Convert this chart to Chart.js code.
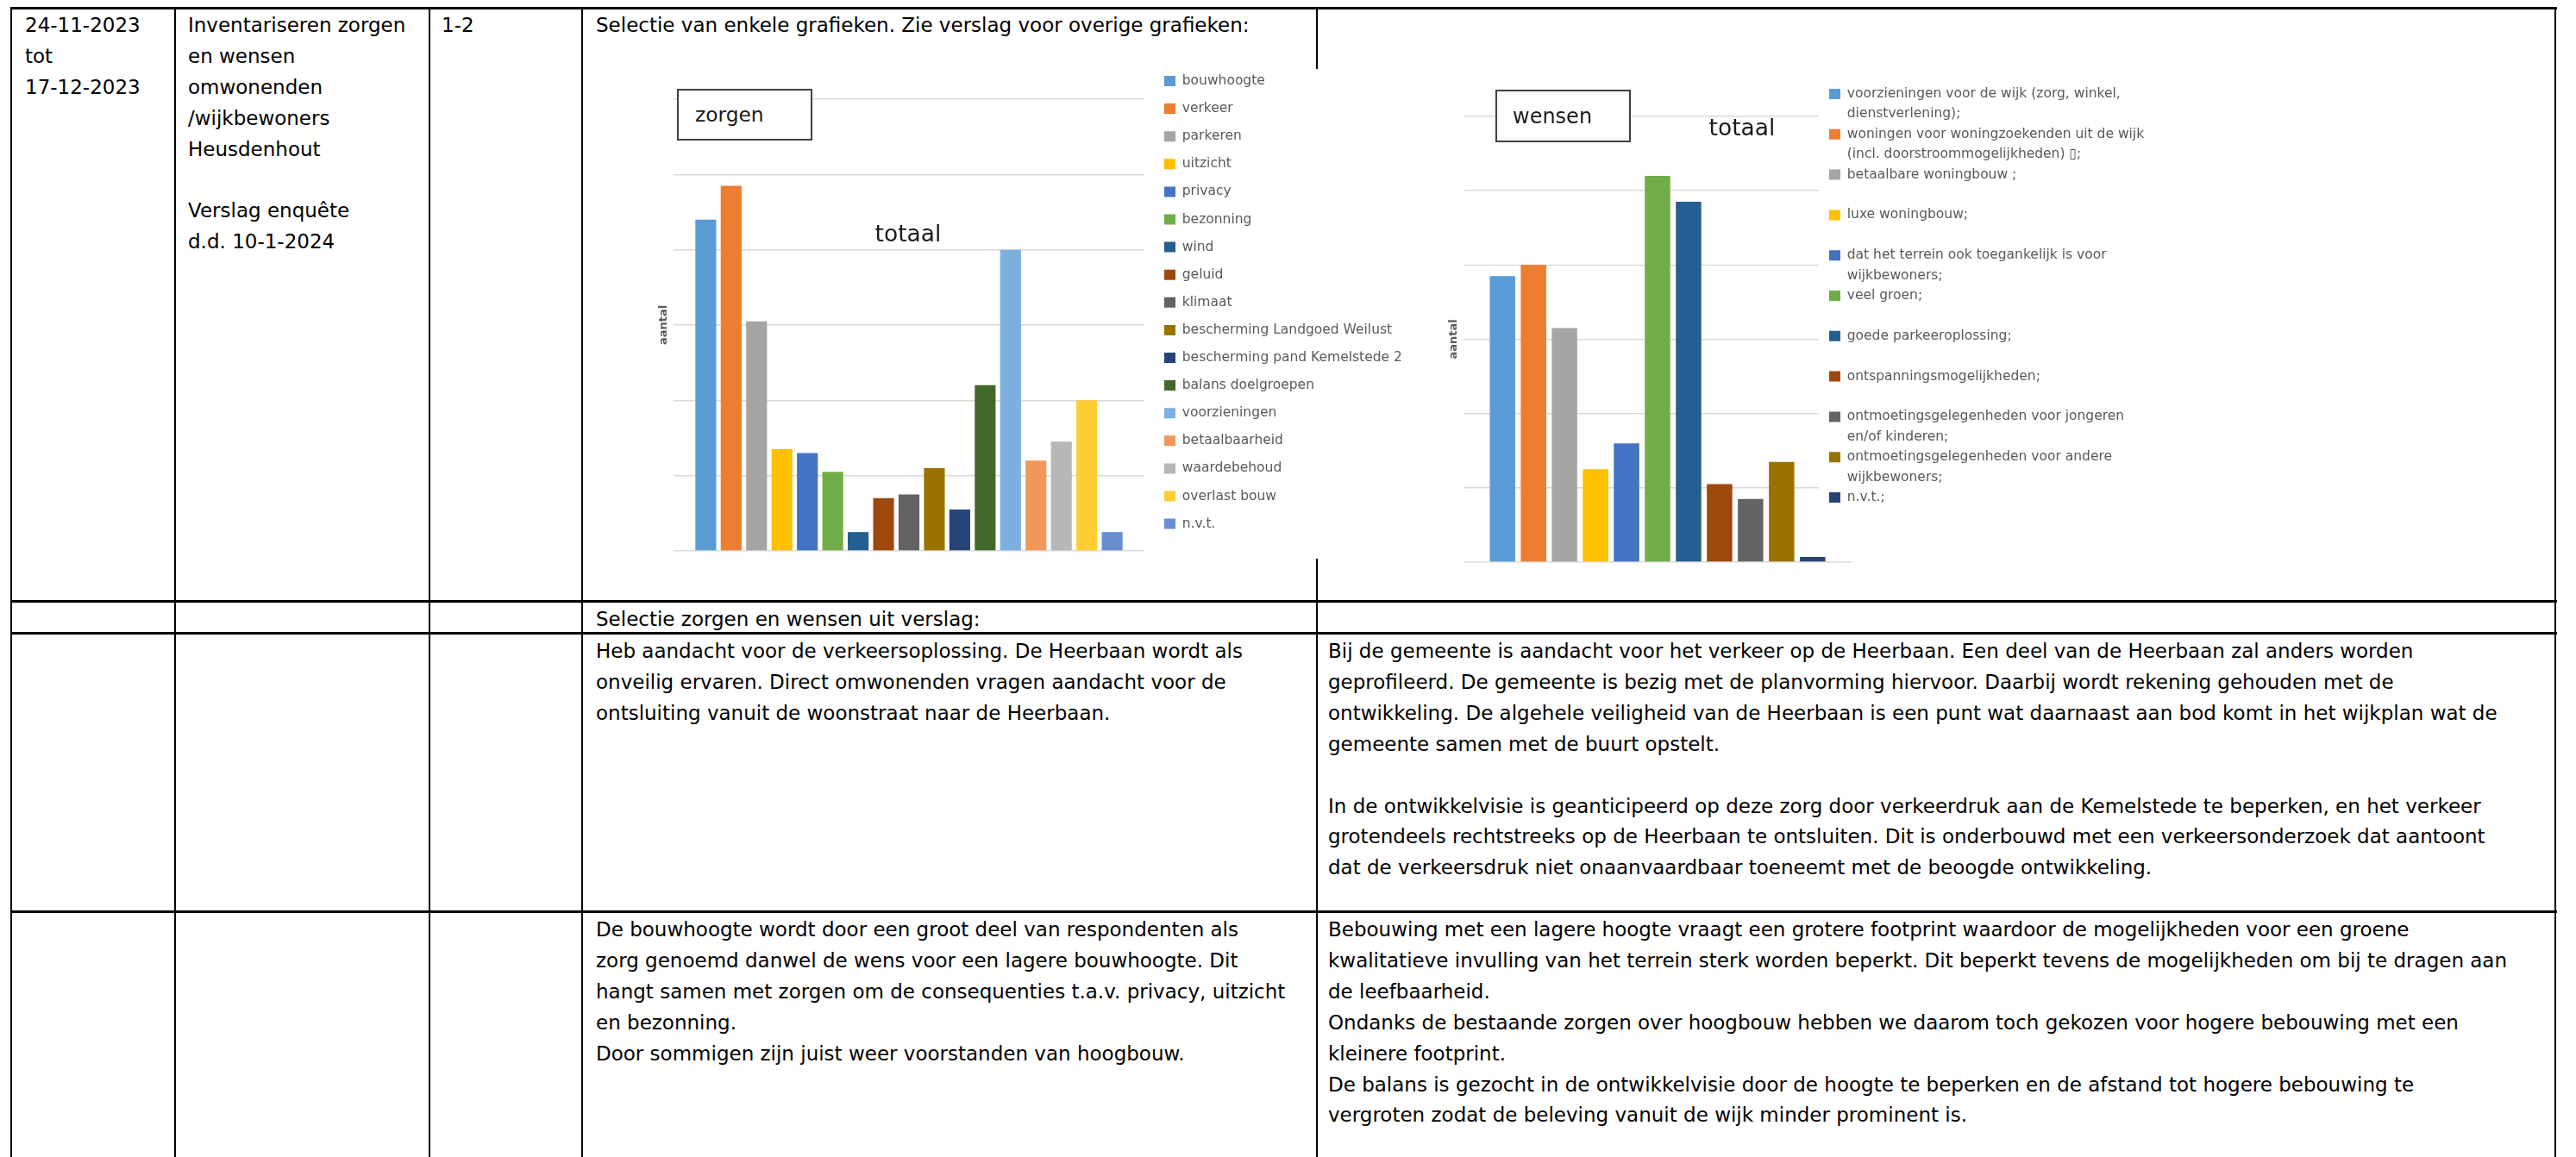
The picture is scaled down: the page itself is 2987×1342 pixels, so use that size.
<!DOCTYPE html>
<html lang="nl">
<head>
<meta charset="utf-8">
<title>Zorgen en wensen</title>
<script src="https://cdn.jsdelivr.net/npm/chart.js@4.4.1/dist/chart.umd.min.js"></script>
<style>
  html, body { margin: 0; padding: 0; background: #fff; }
  body { width: 2987px; height: 1342px; position: relative; overflow: hidden; font-family: "DejaVu Sans", sans-serif; color: #000; }
  .hl { position: absolute; left: 12px; width: 2953px; height: 3px; background: #000; }
  .vl { position: absolute; top: 8px; bottom: 0; width: 2px; background: #000; }
  .txt { position: absolute; white-space: pre; font-size: 23px; line-height: 35.9px; }
  canvas { position: absolute; background: #fff; }
  .tag { position: absolute; background: #fff; border: 2px solid #404040; box-sizing: border-box; }
  .lbl { position: absolute; white-space: pre; line-height: 30px; color: #1a1a1a; }
</style>
</head>
<body>

<!-- table lines -->
<div class="hl" style="top:8px"></div>
<div class="hl" style="top:696px"></div>
<div class="hl" style="top:733px"></div>
<div class="hl" style="top:1056px"></div>
<div class="vl" style="left:12px"></div>
<div class="vl" style="left:202px"></div>
<div class="vl" style="left:497px"></div>
<div class="vl" style="left:674px"></div>
<div class="vl" style="left:1526px"></div>
<div class="vl" style="left:2962px"></div>

<!-- row 1 -->
<div class="txt" style="left:29px;top:12px">24-11-2023
tot
17-12-2023</div>
<div class="txt" style="left:218px;top:12px">Inventariseren zorgen
en wensen
omwonenden
/wijkbewoners
Heusdenhout

Verslag enquête
d.d. 10-1-2024</div>
<div class="txt" style="left:512px;top:12px">1-2</div>
<div class="txt" style="left:691px;top:12px">Selectie van enkele grafieken. Zie verslag voor overige grafieken:</div>

<!-- row 2 -->
<div class="txt" style="left:691px;top:701px">Selectie zorgen en wensen uit verslag:</div>

<!-- row 3 -->
<div class="txt" style="left:691px;top:738px">Heb aandacht voor de verkeersoplossing. De Heerbaan wordt als
onveilig ervaren. Direct omwonenden vragen aandacht voor de
ontsluiting vanuit de woonstraat naar de Heerbaan.</div>
<div class="txt" style="left:1540px;top:738px">Bij de gemeente is aandacht voor het verkeer op de Heerbaan. Een deel van de Heerbaan zal anders worden
geprofileerd. De gemeente is bezig met de planvorming hiervoor. Daarbij wordt rekening gehouden met de
ontwikkeling. De algehele veiligheid van de Heerbaan is een punt wat daarnaast aan bod komt in het wijkplan wat de
gemeente samen met de buurt opstelt.

In de ontwikkelvisie is geanticipeerd op deze zorg door verkeerdruk aan de Kemelstede te beperken, en het verkeer
grotendeels rechtstreeks op de Heerbaan te ontsluiten. Dit is onderbouwd met een verkeersonderzoek dat aantoont
dat de verkeersdruk niet onaanvaardbaar toeneemt met de beoogde ontwikkeling.</div>

<!-- row 4 -->
<div class="txt" style="left:691px;top:1061px">De bouwhoogte wordt door een groot deel van respondenten als
zorg genoemd danwel de wens voor een lagere bouwhoogte. Dit
hangt samen met zorgen om de consequenties t.a.v. privacy, uitzicht
en bezonning.
Door sommigen zijn juist weer voorstanden van hoogbouw.</div>
<div class="txt" style="left:1540px;top:1061px">Bebouwing met een lagere hoogte vraagt een grotere footprint waardoor de mogelijkheden voor een groene
kwalitatieve invulling van het terrein sterk worden beperkt. Dit beperkt tevens de mogelijkheden om bij te dragen aan
de leefbaarheid.
Ondanks de bestaande zorgen over hoogbouw hebben we daarom toch gekozen voor hogere bebouwing met een
kleinere footprint.
De balans is gezocht in de ontwikkelvisie door de hoogte te beperken en de afstand tot hogere bebouwing te
vergroten zodat de beleving vanuit de wijk minder prominent is.</div>

<!-- charts -->
<canvas id="zorgenChart" width="925" height="568" style="left:740px;top:80px"></canvas>
<canvas id="wensenChart" width="900" height="590" style="left:1665px;top:80px"></canvas>

<div class="tag" style="left:785px;top:103px;width:157px;height:60px"></div>
<div class="lbl" style="left:806px;top:119px;font-size:23.3px;line-height:28px">zorgen</div>
<div class="lbl" style="left:993px;top:256px;width:120px;text-align:center;font-size:26.5px">totaal</div>

<div class="tag" style="left:1734px;top:104px;width:157px;height:61px"></div>
<div class="lbl" style="left:1754px;top:121px;font-size:24px;line-height:28px">wensen</div>
<div class="lbl" style="left:1960px;top:133px;width:120px;text-align:center;font-size:26.5px">totaal</div>

<script>
// zorgen (concerns), one bar per answer
var zorgenLabels = ['bouwhoogte', 'verkeer', 'parkeren', 'uitzicht', 'privacy', 'bezonning', 'wind', 'geluid', 'klimaat',
    'bescherming Landgoed Weilust', 'bescherming pand Kemelstede 2', 'balans doelgroepen', 'voorzieningen',
    'betaalbaarheid', 'waardebehoud', 'overlast bouw', 'n.v.t.'];
var zorgenValues = [88, 97, 61, 27, 26, 21, 5, 14, 15, 22, 11, 44, 80, 24, 29, 40, 5];
var zorgenColors = ['#5B9BD5', '#ED7D31', '#A5A5A5', '#FFC000', '#4472C4', '#70AD47', '#255E91', '#9E480E', '#636363',
    '#997300', '#264478', '#43682B', '#7CAFDD', '#F1975A', '#B7B7B7', '#FFCD33', '#698ED0'];

// wensen (wishes)
var wensenLabels = ['voorzieningen voor de wijk (zorg, winkel,\ndienstverlening);',
    'woningen voor woningzoekenden uit de wijk\n(incl. doorstroommogelijkheden) \u25AF;',
    'betaalbare woningbouw ;', 'luxe woningbouw;',
    'dat het terrein ook toegankelijk is voor\nwijkbewoners;', 'veel groen;', 'goede parkeeroplossing;',
    'ontspanningsmogelijkheden;', 'ontmoetingsgelegenheden voor jongeren\nen/of kinderen;',
    'ontmoetingsgelegenheden voor andere\nwijkbewoners;', 'n.v.t.;'];
var wensenValues = [77, 80, 63, 25, 32, 104, 97, 21, 17, 27, 1.4];
var wensenColors = ['#5B9BD5', '#ED7D31', '#A5A5A5', '#FFC000', '#4472C4', '#70AD47', '#255E91', '#9E480E', '#636363',
    '#997300', '#264478'];

var axisMax = 120;
var axisStep = 20;

Chart.defaults.font.family = '"DejaVu Sans", sans-serif';

// put the legend where the original picture has it
const legendSpot = {
    id: 'legendSpot',
    afterLayout(chart, args, opts) {
        const lg = chart.legend;
        if (!lg || opts.left === undefined) return;
        lg.left = opts.left;
        lg.top = opts.top;
        lg.right = chart.width;
        lg.bottom = chart.height + 400;
        lg.width = lg.right - lg.left;
        lg.height = lg.bottom - lg.top;
    },
    beforeDatasetsDraw(chart, args, opts) {
        if (!opts.mask) return;
        const ctx = chart.ctx;
        ctx.save();
        ctx.fillStyle = '#fff';
        ctx.fillRect(opts.mask.left, opts.mask.top, chart.width - opts.mask.left, opts.mask.bottom - opts.mask.top);
        ctx.restore();
        chart.legend.draw();
    }
};
Chart.register(legendSpot);

function barChart(id, labels, values, colors, cfg) {
    const datasets = labels.map(function (lab, i) {
        return {
            label: lab,
            data: [values[i]],
            backgroundColor: colors[i],
            borderWidth: 0,
            categoryPercentage: cfg.catPct,
            barPercentage: cfg.barPct
        };
    });
    const labelOpts = {
        boxWidth: 13,
        boxHeight: 12,
        padding: cfg.legendPadding,
        color: '#595959',
        font: { size: 15.5, lineHeight: cfg.legendLineHeight }
    };
    if (cfg.multiLine) {
        labelOpts.generateLabels = function (chart) {
            const items = Chart.defaults.plugins.legend.labels.generateLabels(chart);
            items.forEach(function (it) {
                const lines = String(it.text).split('\n');
                if (lines.length < 2) lines.push('');
                it.text = lines;
            });
            return items;
        };
    }
    return new Chart(document.getElementById(id), {
        type: 'bar',
        data: { labels: ['totaal'], datasets: datasets },
        options: {
            responsive: false,
            animation: false,
            devicePixelRatio: 1,
            events: [],
            layout: { padding: cfg.padding },
            scales: {
                x: { display: false },
                y: {
                    min: 0,
                    max: axisMax,
                    ticks: { display: false, stepSize: axisStep },
                    grid: { color: '#d9d9d9', lineWidth: 1.5, drawTicks: false },
                    border: { display: false },
                    title: { display: true, text: 'aantal', color: '#595959', font: { size: 13, weight: 'bold' } }
                }
            },
            plugins: {
                title: { display: false },
                tooltip: { enabled: false },
                legend: { position: 'chartArea', align: 'start', labels: labelOpts },
                legendSpot: cfg.legendSpot
            }
        }
    });
}

barChart('zorgenChart', zorgenLabels, zorgenValues, zorgenColors, {
    catPct: 0.917,
    barPct: 0.82,
    padding: { left: 17.4, top: 35, right: 338, bottom: 9 },
    legendPadding: 16.6,
    legendLineHeight: 1.2,
    multiLine: false,
    legendSpot: { left: 593.4, top: -10.35 }
});

barChart('wensenChart', wensenLabels, wensenValues, wensenColors, {
    catPct: 0.879,
    barPct: 0.82,
    padding: { left: 8.4, top: 55, right: 418, bottom: 18 },
    legendPadding: 0.2,
    legendLineHeight: '23.3px',
    multiLine: true,
    legendSpot: { left: 455.8, top: 21.05, mask: { left: 444, top: 0, bottom: 530 } }
});
</script>
</body>
</html>
